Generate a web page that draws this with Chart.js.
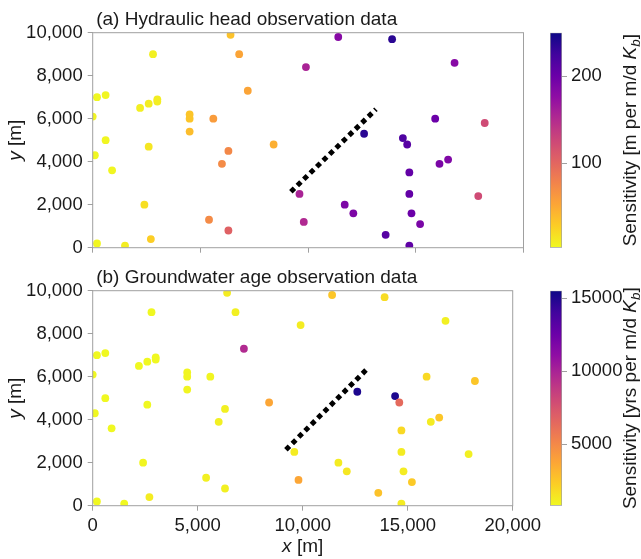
<!DOCTYPE html>
<html>
<head>
<meta charset="utf-8">
<script src="https://cdn.jsdelivr.net/npm/chart.js@4.4.1/dist/chart.umd.min.js"></script>
<style>
  body { margin: 0; background: #fff; }
  #fig { position: relative; width: 641px; height: 559px; overflow: hidden; background: #fff; }
  #fig canvas { position: absolute; }
</style>
</head>
<body>
<div id="fig">
  <canvas id="headPanel" width="545" height="275" style="left:0;top:0"></canvas>
  <canvas id="agePanel" width="545" height="301" style="left:0;top:258px"></canvas>
  <canvas id="headBar" width="101" height="275" style="left:540px;top:0"></canvas>
  <canvas id="ageBar" width="101" height="301" style="left:540px;top:258px"></canvas>
</div>
<script>
// observation well locations [m]
const wellX = [6400, 2800, 6800, 9900, 200, 600, 7200, 2200, 2600, 3000,
               3000, 0, 4500, 4500, 4500, 5600, 600, 2600, 8400, 100,
               6300, 6000, 900, 9600, 2400, 5400, 9800, 6300, 2700, 200,
               1500, 11400, 13900, 16800, 15900, 18200, 12600, 14400, 14600, 16500,
               16100, 14700, 14700, 17900, 11700, 12100, 14800, 15200, 13600, 14700];
const wellY = [9900, 9000, 9000, 8400, 7000, 7100, 7300, 6500, 6700, 6900,
               6800, 6100, 6200, 6000, 5400, 6000, 5000, 4700, 4800, 4300,
               4500, 3900, 3600, 2500, 2000, 1300, 1200, 800, 400, 200,
               100, 9800, 9700, 8600, 6000, 5800, 5300, 5100, 4800, 4100,
               3900, 3500, 2500, 2400, 2000, 1600, 1600, 1100, 600, 100];

// sensitivities
const headSens = [35, 8, 54, 157, 4, 5, 54, 9, 10, 10,
                  10, 6, 33, 33, 38, 60, 5, 14, 47, 4,
                  74, 72, 5, 157, 18, 72, 152, 104, 28, 5,
                  10, 181, 236, 181, 200, 123, 236, 217, 212, 186,
                  190, 205, 205, 123, 188, 188, 200, 190, 212, 207];
const ageSens = [1250, 850, 1100, 1250, 850, 850, 9620, 850, 850, 850,
                 850, 850, 950, 950, 950, 950, 850, 850, 3740, 850,
                 1100, 1100, 850, 1250, 950, 1100, 3740, 1100, 1250, 850,
                 850, 2560, 1800, 1100, 1900, 2560, 15060, 15060, 6390, 2560,
                 1250, 1900, 1250, 1100, 1250, 1400, 1250, 2420, 2700, 1250];

// fault trace (dotted line)
const faultX = [9200, 13150];
const faultY = [2600, 6440];

const xTicks = [0, 5000, 10000, 15000, 20000];
const yTicks = [0, 2000, 4000, 6000, 8000, 10000];
const headRange = [3, 250];
const ageRange = [800, 15500];
const headBarTicks = [100, 200];
const ageBarTicks = [5000, 10000, 15000];

const FONT = '"Liberation Sans", Arial, sans-serif';
const GREY = '#a0a0a0';
const INK = '#1a1a1a';

// matplotlib plasma, sampled every 0.1
const plasma = [[13, 8, 135], [65, 4, 157], [106, 0, 168], [143, 13, 164], [177, 42, 144],
                [204, 71, 120], [225, 100, 98], [242, 132, 75], [252, 166, 54], [252, 206, 37],
                [240, 249, 33]];

function plasmaR(t) {
  t = Math.min(1, Math.max(0, t));
  const s = (1 - t) * 10;
  const i = Math.min(9, Math.floor(s));
  const f = s - i;
  const a = plasma[i], b = plasma[i + 1];
  const c = a.map((v, k) => Math.round(v + (b[k] - v) * f));
  return `rgb(${c[0]},${c[1]},${c[2]})`;
}

function drawParts(ctx, parts, x, y, rot) {
  ctx.save();
  ctx.translate(x, y);
  if (rot) ctx.rotate(rot);
  ctx.textAlign = 'left';
  ctx.textBaseline = 'alphabetic';
  ctx.fillStyle = INK;
  let total = 0;
  parts.forEach(p => { ctx.font = p.font; p.w = ctx.measureText(p.text).width; total += p.w; });
  let cx = -total / 2;
  parts.forEach(p => { ctx.font = p.font; ctx.fillText(p.text, cx, p.dy || 0); cx += p.w; });
  ctx.restore();
}

function makePanel(id, sens, range, title, showX) {
  const canvas = document.getElementById(id);
  const ctx = canvas.getContext('2d');
  const colors = sens.map(v => plasmaR((v - range[0]) / (range[1] - range[0])));
  const points = wellX.map((x, i) => ({ x: x, y: wellY[i] }));
  const fault = faultX.map((x, i) => ({ x: x, y: faultY[i] }));

  const deco = {
    id: 'deco',
    afterDraw(chart) {
      const a = chart.chartArea;
      const c = chart.ctx;
      c.save();
      c.strokeStyle = GREY;
      c.lineWidth = 1;
      c.strokeRect(a.left, a.top, a.right - a.left, a.bottom - a.top);
      c.fillStyle = INK;
      c.font = `19px ${FONT}`;
      c.textAlign = 'left';
      c.fillText(title, a.left + 3.5, a.top - 7.5);
      c.restore();
      drawParts(c, [{ text: 'y', font: `italic 19px ${FONT}` }, { text: ' [m]', font: `19px ${FONT}` }],
        21, (a.top + a.bottom) / 2, -Math.PI / 2);
      if (showX) {
        drawParts(c, [{ text: 'x', font: `italic 19px ${FONT}` }, { text: ' [m]', font: `19px ${FONT}` }],
          (a.left + a.right) / 2, a.bottom + 46);
      }
    }
  };

  return new Chart(ctx, {
    type: 'scatter',
    data: {
      datasets: [{
        data: points,
        pointBackgroundColor: colors,
        pointBorderWidth: 0,
        pointRadius: 3.9,
        clip: 0,
        order: 0
      }, {
        data: fault,
        showLine: true,
        borderColor: '#000',
        borderWidth: 5,
        borderDash: [5, 4],
        borderCapStyle: 'butt',
        pointRadius: 0,
        clip: 0,
        order: 1
      }]
    },
    options: {
      responsive: false,
      animation: false,
      layout: { padding: { top: 32.7, right: 21.5, left: 0, bottom: 0 } },
      plugins: { legend: { display: false }, tooltip: { enabled: false } },
      scales: {
        x: {
          type: 'linear', min: 0, max: 20000,
          afterBuildTicks: s => { s.ticks = xTicks.map(v => ({ value: v })); },
          afterFit: s => { s.height = canvas.height - 32.7 - 215; },
          border: { display: false },
          grid: { drawOnChartArea: false, drawTicks: true, tickLength: 5, color: GREY },
          ticks: {
            display: showX, padding: 4, color: INK,
            font: { family: FONT, size: 18.5 },
            maxRotation: 0,
            callback: v => v.toLocaleString('en-US')
          }
        },
        y: {
          type: 'linear', min: 0, max: 10000,
          afterBuildTicks: s => { s.ticks = yTicks.map(v => ({ value: v })); },
          afterFit: s => { s.width = 92.7; },
          border: { display: false },
          grid: { drawOnChartArea: false, drawTicks: true, tickLength: 5, color: GREY },
          ticks: {
            padding: 5, color: INK,
            font: { family: FONT, size: 18.5 },
            callback: v => v.toLocaleString('en-US')
          }
        }
      }
    },
    plugins: [deco]
  });
}

function makeColorbar(id, range, ticks, unit) {
  const canvas = document.getElementById(id);
  const ctx = canvas.getContext('2d');

  const label = {
    id: 'cbLabel',
    afterDraw(chart) {
      const a = chart.chartArea;
      drawParts(chart.ctx, [
        { text: `Sensitivity [${unit} per m/d `, font: `19px ${FONT}` },
        { text: 'K', font: `italic 19px ${FONT}` },
        { text: 'b', font: `italic 13.5px ${FONT}`, dy: 4 },
        { text: ']', font: `19px ${FONT}` }
      ], 96, (a.top + a.bottom) / 2, -Math.PI / 2);
    }
  };

  return new Chart(ctx, {
    type: 'bar',
    data: {
      labels: [''],
      datasets: [{
        data: [[range[0], range[1]]],
        backgroundColor: c => {
          const a = c.chart.chartArea;
          if (!a) return null;
          const g = c.chart.ctx.createLinearGradient(0, a.bottom, 0, a.top);
          for (let i = 0; i <= 40; i++) g.addColorStop(i / 40, plasmaR(i / 40));
          return g;
        },
        borderColor: GREY,
        borderWidth: 1,
        borderSkipped: false,
        barPercentage: 1,
        categoryPercentage: 1
      }]
    },
    options: {
      responsive: false,
      animation: false,
      layout: { padding: { top: 32.7, left: 10, right: 0, bottom: canvas.height - 32.7 - 215 } },
      plugins: { legend: { display: false }, tooltip: { enabled: false } },
      scales: {
        x: { display: false },
        y: {
          position: 'right',
          min: range[0], max: range[1],
          afterBuildTicks: s => { s.ticks = ticks.map(v => ({ value: v })); },
          afterFit: s => { s.width = 79; },
          border: { display: false },
          grid: { drawOnChartArea: false, drawTicks: true, tickLength: 5, color: GREY },
          ticks: {
            padding: 4, color: INK,
            font: { family: FONT, size: 18.5 },
            callback: v => String(v)
          }
        }
      }
    },
    plugins: [label]
  });
}

makePanel('headPanel', headSens, headRange, '(a) Hydraulic head observation data', false);
makePanel('agePanel', ageSens, ageRange, '(b) Groundwater age observation data', true);
makeColorbar('headBar', headRange, headBarTicks, 'm');
makeColorbar('ageBar', ageRange, ageBarTicks, 'yrs');
</script>
</body>
</html>
